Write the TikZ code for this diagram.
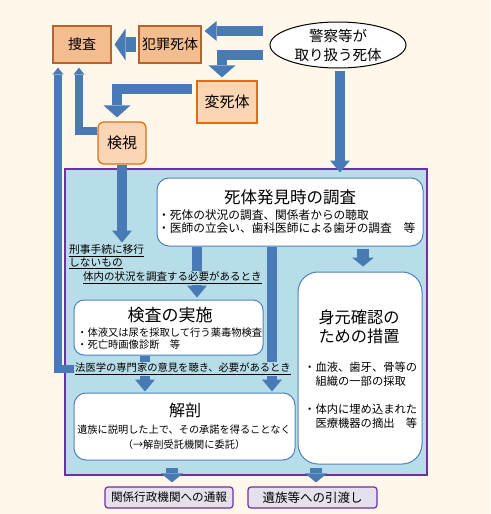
\documentclass[tikz,border=0pt]{standalone}
\usepackage{fontspec}
\setmainfont{Noto Sans CJK JP}
\usetikzlibrary{arrows.meta, positioning, shapes.geometric}
\pgfdeclarelayer{bg}
\pgfdeclarelayer{arr}
\pgfsetlayers{bg,arr,main}
\definecolor{bgc}{RGB}{254,247,234}
\definecolor{ablue}{RGB}{72,122,182}
\definecolor{panel}{RGB}{183,222,232}
\definecolor{purp}{RGB}{112,48,160}
\definecolor{pfill}{RGB}{229,224,236}
\definecolor{wline}{RGB}{79,129,189}
\definecolor{hanfill}{RGB}{244,189,143}
\definecolor{hanline}{RGB}{184,98,48}
\definecolor{orfill}{RGB}{252,213,181}
\definecolor{orline}{RGB}{228,108,10}

\begin{document}
\begin{tikzpicture}[x=1pt, y=-1pt,
    hbox/.style={draw=hanline, fill=hanfill, line width=1.2pt, inner sep=0pt},
    obox/.style={draw=orline, fill=orfill, line width=1.2pt, inner sep=0pt},
    wbox/.style={draw=wline, fill=white, line width=1pt, rounded corners=12pt, inner sep=0pt},
    pbox/.style={draw=purp, fill=pfill, line width=1.2pt, rounded corners=3pt, inner sep=0pt},
    lab/.style={fill=panel, inner sep=1pt, anchor=west, align=left, font=\fontsize{10.5}{13}\selectfont},
    ttl/.style={font=\fontsize{16.5}{19}\selectfont, align=center, inner sep=0pt},
    blt/.style={anchor=west, align=left, inner sep=0pt},
    barrow/.style={line width=9.5pt, draw=ablue, -{Triangle[width=20pt, length=12pt, line width=0pt]}},
    wide/.style={-{Triangle[width=27pt, length=12pt, line width=0pt]}},
    bigarrow/.style={line width=15pt, draw=ablue, -{Triangle[width=32pt, length=11pt, line width=0pt]}},
    sarrow/.style={line width=7.5pt, draw=ablue, -{Triangle[width=11pt, length=7pt, line width=0pt]}},
    stub/.style={line width=11.5pt, draw=ablue, -{Triangle[width=22pt, length=9pt, line width=0pt]}}
  ]
  \useasboundingbox (0,0) rectangle (490,514);
  \begin{pgfonlayer}{bg}
    \fill[bgc] (0,0) rectangle (490,514);
    \node[draw=purp, fill=panel, line width=1.8pt, minimum width=362pt, minimum height=306pt, inner sep=0pt] (panel) at (246,322) {};
  \end{pgfonlayer}

  % top row
  \node[hbox, minimum width=58pt, minimum height=37pt, font=\fontsize{14}{14}\selectfont] (sousa) at (82,44.5) {捜査};
  \node[hbox, minimum width=62pt, minimum height=37pt, font=\fontsize{14}{14}\selectfont] (hanzai) at (170,44.5) {犯罪死体};
  \node[obox, minimum width=60pt, minimum height=42pt, font=\fontsize{15}{15}\selectfont] (henshi) at (227,102) {変死体};
  \node[obox, rounded corners=6pt, minimum width=48pt, minimum height=42pt, font=\fontsize{15}{15}\selectfont] (kenshi) at (122,143) {検視};
  \node[ellipse, draw, fill=white, line width=1pt, minimum width=136pt, minimum height=46pt, inner sep=0pt, align=center, font=\fontsize{14.5}{19}\selectfont] (keisatsu) at (338,45) {警察等が\\取り扱う死体};

  % boxes inside the panel
  \node[wbox, minimum width=266pt, minimum height=68pt] (chousa) at (290,212) {};
  \node[ttl] (chousaT) at (290,197) {死体発見時の調査};
  \node[blt, font=\fontsize{11.7}{13}\selectfont] (chousaB) at (158,221.5) {・死体の状況の調査、関係者からの聴取\\・医師の立会い、歯科医師による歯牙の調査　等};

  \node[wbox, rounded corners=10pt, minimum width=189pt, minimum height=55pt] (kensa) at (168.5,327.5) {};
  \node[ttl, font=\fontsize{17}{19}\selectfont] (kensaT) at (170,315) {検査の実施};
  \node[blt, font=\fontsize{10.3}{12}\selectfont] (kensaB) at (77,339) {・体液又は尿を採取して行う薬毒物検査\\・死亡時画像診断　等};

  \node[wbox, minimum width=221pt, minimum height=67pt] (kaibo) at (184.5,426.5) {};
  \node[ttl, font=\fontsize{16}{19}\selectfont] (kaiboT) at (185,410) {解剖};
  \node[ttl, font=\fontsize{10.2}{15}\selectfont] (kaiboB) at (184,437.5) {遺族に説明した上で、その承諾を得ることなく\\（→解剖受託機関に委託）};

  \node[wbox, rounded corners=20pt, minimum width=124pt, minimum height=192pt] (mimoto) at (360,368) {};
  \node[ttl, font=\fontsize{16.2}{19}\selectfont] (mimotoT) at (359,326.5) {身元確認の\\ための措置};
  \node[blt, font=\fontsize{11.3}{14}\selectfont] (mimotoB) at (304,395) {・血液、歯牙、骨等の\\　組織の一部の採取\\[14pt]・体内に埋め込まれた\\　医療機器の摘出　等};

  % conditions
  \node[lab, font=\fontsize{10.7}{13}\selectfont] (keiji) at (68,257) {\underline{刑事手続に移行}\\\underline{しないもの}};
  \node[lab] (tainai) at (82,278) {\underline{体内の状況を調査する必要があるとき}};
  \node[lab, font=\fontsize{10.3}{12}\selectfont] (houi) at (74,369) {\underline{法医学の専門家の意見を聴き、必要があるとき}};

  % results
  \node[pbox, minimum width=128pt, minimum height=21pt, font=\fontsize{11.6}{12}\selectfont] (tsuho) at (169,497.5) {関係行政機関への通報};
  \node[pbox, minimum width=129pt, minimum height=21pt, font=\fontsize{12.5}{12}\selectfont] (hiki) at (312.5,497.5) {遺族等への引渡し};

  % arrows
  \coordinate (k1) at ([xshift=-7pt,yshift=14pt]keisatsu.west);
  \coordinate (k2) at ([xshift=-7pt,yshift=-10pt]keisatsu.west);
  \coordinate (c1) at ([xshift=-93pt]chousa.south);
  \coordinate (c2) at ([xshift=-18pt]chousa.south);
  \coordinate (c3) at ([xshift=73pt]chousa.south);
  \coordinate (c4) at ([xshift=-23.5pt]kensa.south);
  \coordinate (c5) at ([xshift=-12.5pt]kaibo.south);
  \coordinate (c6) at ([xshift=-44pt]mimoto.south);
  \begin{pgfonlayer}{arr}
    \draw[barrow, shorten >=3pt] (k1) -- (k1 -| hanzai.east);
    \draw[barrow, wide] (k2) -| ([xshift=-5pt,yshift=3pt]henshi.north);
    \draw[bigarrow, shorten <=2pt, shorten >=3pt] (hanzai.west) -- (sousa.east);
    \draw[barrow, wide, shorten <=4pt] ([yshift=13pt]henshi.west) -| ([xshift=-5pt,yshift=4pt]kenshi.north);
    \draw[sarrow] ([yshift=12pt]kenshi.west) -| ([xshift=-3pt,yshift=-4pt]sousa.south);
    \draw[sarrow] (houi.west) -| ([xshift=-24pt,yshift=-4pt]sousa.south);
    \draw[barrow, shorten <=2pt, shorten >=5pt] ([xshift=2pt]keisatsu.south) -- ([xshift=2pt]keisatsu.south |- chousa.north);
    \draw[barrow, shorten >=1pt] (kenshi.south) -- (kenshi.south |- keiji.north);
    \draw[barrow, shorten >=2pt] (c1) -- (c1 |- kensa.north);
    \draw[barrow, shorten >=1pt] (c2) -- (c2 |- kaibo.north);
    \draw[stub, shorten <=2pt, shorten >=5pt] (c3) -- (c3 |- mimoto.north);
    \draw[barrow, shorten >=1pt] (c4) -- (c4 |- kaibo.north);
    \draw[stub, shorten <=7pt, shorten >=4pt] (c5) -- (c5 |- tsuho.north);
    \draw[stub, shorten <=3pt, shorten >=4pt] (c6) -- (c6 |- hiki.north);
  \end{pgfonlayer}
\end{tikzpicture}
\end{document}
